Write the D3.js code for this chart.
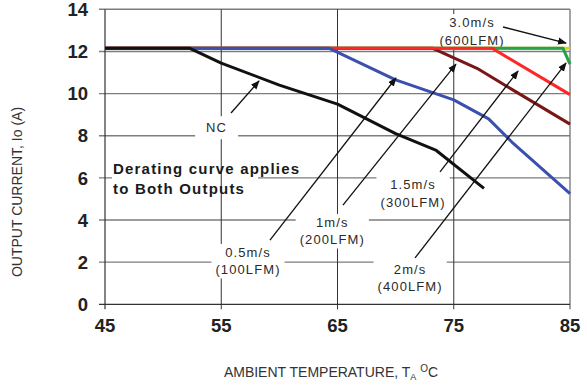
<!DOCTYPE html>
<html><head><meta charset="utf-8">
<script src="https://cdn.jsdelivr.net/npm/d3@7/dist/d3.min.js"></script>
<style>body{margin:0;background:#fff}svg{display:block}</style>
</head><body><svg id="c" width="587" height="387"></svg>
<script>
// ---- data ----
const xTicks = [45, 55, 65, 75, 85];
const yTicks = [0, 2, 4, 6, 8, 10, 12, 14];
const seriesNames = ["3.0m/s", "2m/s", "1m/s", "1.5m/s", "0.5m/s", "NC"];
const seriesColors = ["#d6d21e", "#25a244", "#7a1616", "#ff2626", "#3b4fae", "#111111"];
const s30 = [[45, 12.15], [85, 12.15]];
const s20 = [[45, 12.15], [84.4, 12.15], [85, 11.4]];
const s10 = [[45, 12.15], [73.2, 12.15], [77, 11.2], [80, 10.2], [85, 8.55]];
const s15 = [[45, 12.15], [78.3, 12.15], [85, 9.95]];
const s05 = [[45, 12.15], [64.3, 12.15], [70, 10.65], [75, 9.7], [78, 8.8], [80, 7.7], [85, 5.25]];
const sNC = [[45, 12.15], [52.3, 12.15], [55, 11.45], [60, 10.4], [65, 9.5], [70, 8.1], [73.5, 7.3], [77.6, 5.5]];
const seriesData = [s30, s20, s10, s15, s05, sNC];
// annotation labels
const labelText = [["NC", ""], ["0.5m/s", "(100LFM)"], ["1m/s", "(200LFM)"], ["1.5m/s", "(300LFM)"], ["2m/s", "(400LFM)"], ["3.0m/s", "(600LFM)"]];
const labelPos = [[54.6, 8.38], [57.3, 2.06], [64.55, 3.48], [71.5, 5.28], [71.25, 1.25], [76.57, 12.97]];
// arrows: [fromT, fromI, toT, toI]
const arrows = [[55.84, 9.08, 58.25, 10.6], [59.19, 3.05, 70.03, 10.74], [65.47, 4.71, 75.19, 11.4],
  [73.82, 6.28, 80.53, 11.07], [71.67, 2.2, 84.66, 11.45], [79.24, 13.16, 84.66, 12.4]];
const noteLines = ["Derating curve applies", "to Both Outputs"];

// ---- chart ----
const svg = d3.select("#c");
const x = d3.scaleLinear().domain([45, 85]).range([105, 570]);
const y = d3.scaleLinear().domain([0, 14]).range([304.3, 9.3]);

svg.append("g").selectAll("line").data(yTicks.filter(d => d > 0)).join("line")
  .attr("x1", x(45) - 6).attr("x2", x(85)).attr("y1", d => y(d)).attr("y2", d => y(d))
  .attr("stroke", "#7d7d7d").attr("stroke-width", 1.4);
svg.append("rect").attr("x", 112).attr("y", y(6) - 4).attr("width", 146).attr("height", 8).attr("fill", "#fff");
svg.append("g").selectAll("line").data(xTicks.filter(d => d > 45)).join("line")
  .attr("x1", d => x(d)).attr("x2", d => x(d)).attr("y1", y(14)).attr("y2", y(0) + 5)
  .attr("stroke", d => d === 85 ? "#7d7d7d" : "#333").attr("stroke-width", d => d === 85 ? 1.4 : 1);
svg.append("line").attr("x1", x(45)).attr("x2", x(45)).attr("y1", y(14)).attr("y2", y(0) + 5)
  .attr("stroke", "#333").attr("stroke-width", 1.2);
svg.append("line").attr("x1", x(45) - 6).attr("x2", x(85)).attr("y1", y(0)).attr("y2", y(0))
  .attr("stroke", "#333").attr("stroke-width", 1.2);

const lab = svg.append("g");
const labelGroups = lab.selectAll("g").data(labelText).join("g");
labelGroups.each(function(d, i) {
  const g = d3.select(this);
  const cx = x(labelPos[i][0]), cy = y(labelPos[i][1]);
  const lines = d[1] ? d : [d[0]];
  const off = lines.length === 2 ? -8.5 : 0;
  const texts = lines.map((t, k) => ({t, yy: cy + off + k * 17.5 + 4.5}));
  const rect = g.append("rect").attr("fill", "#fff");
  g.selectAll("text").data(texts).join("text")
    .attr("x", cx).attr("y", t => t.yy).attr("text-anchor", "middle")
    .attr("font-family", "Liberation Sans, Arial, sans-serif").attr("font-size", 13)
    .attr("letter-spacing", 1.1).attr("fill", "#2a2a2a").text(t => t.t);
  const bb = this.getBBox();
  const px = i === 0 ? 11 : 4, py = i === 0 ? 4 : 1;
  rect.attr("x", bb.x - px).attr("y", bb.y - py).attr("width", bb.width + 2 * px).attr("height", bb.height + 2 * py);
});

const line = d3.line().x(d => x(d[0])).y(d => y(d[1]));
svg.append("g").selectAll("path").data(seriesData).join("path")
  .attr("d", line).attr("fill", "none")
  .attr("stroke", (d, i) => seriesColors[i]).attr("stroke-width", 3)
  .attr("stroke-linejoin", "round");

const defs = svg.append("defs");
defs.append("marker").attr("id", "ah").attr("viewBox", "0 0 10 10").attr("refX", 9).attr("refY", 5)
  .attr("markerWidth", 9).attr("markerHeight", 9).attr("markerUnits", "userSpaceOnUse").attr("orient", "auto")
  .append("path").attr("d", "M0,1 L10,5 L0,9 Z").attr("fill", "#111");
svg.append("g").selectAll("line").data(arrows).join("line")
  .attr("x1", d => x(d[0])).attr("y1", d => y(d[1])).attr("x2", d => x(d[2])).attr("y2", d => y(d[3]))
  .attr("stroke", "#111").attr("stroke-width", 1.3).attr("marker-end", "url(#ah)");

svg.append("g").selectAll("text").data(noteLines).join("text")
  .attr("x", 113).attr("y", (d, i) => 174 + i * 20)
  .attr("font-family", "Liberation Sans, Arial, sans-serif").attr("font-weight", "bold")
  .attr("font-size", 15).attr("letter-spacing", 1.2).attr("fill", "#1a1a1a").text(d => d);

svg.append("g").selectAll("text").data(yTicks).join("text")
  .attr("x", 88).attr("y", d => y(d) + 6.7).attr("text-anchor", "end")
  .attr("font-family", "Liberation Sans, Arial, sans-serif").attr("font-weight", "bold")
  .attr("font-size", 18.5).attr("fill", "#222").text(d => d);
svg.append("g").selectAll("text").data(xTicks).join("text")
  .attr("x", d => x(d)).attr("y", 332).attr("text-anchor", "middle")
  .attr("font-family", "Liberation Sans, Arial, sans-serif").attr("font-weight", "bold")
  .attr("font-size", 18.5).attr("fill", "#222").text(d => d);

const xt = svg.append("text").attr("x", 331).attr("y", 377).attr("text-anchor", "middle")
  .attr("font-family", "Liberation Sans, Arial, sans-serif").attr("font-size", 14).attr("fill", "#333");
xt.append("tspan").text("AMBIENT TEMPERATURE, T");
xt.append("tspan").attr("font-size", 9).attr("dy", 3).text("A");
xt.append("tspan").attr("dy", -3).text(" ");
xt.append("tspan").attr("font-size", 10).attr("dy", -5).text("O");
xt.append("tspan").attr("dy", 5).text("C");
svg.append("text").attr("transform", "translate(22,192) rotate(-90)").attr("text-anchor", "middle")
  .attr("font-family", "Liberation Sans, Arial, sans-serif").attr("font-size", 14).attr("fill", "#333")
  .text("OUTPUT CURRENT, Io (A)");
</script></body></html>
